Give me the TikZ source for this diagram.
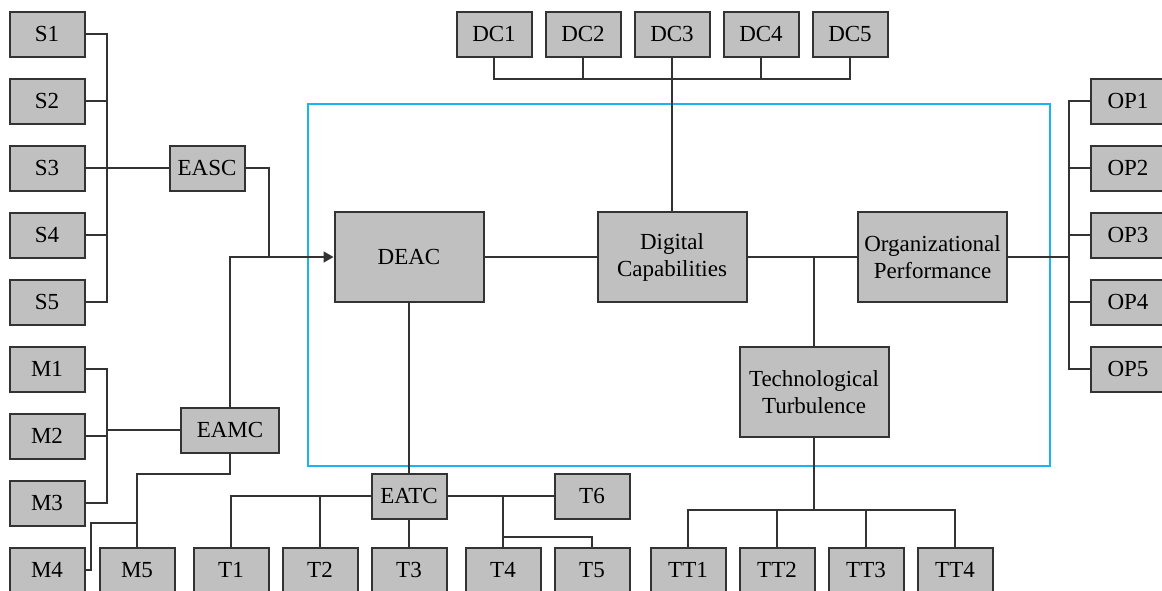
\documentclass[tikz,border=0pt]{standalone}
\usepackage{fontspec}
\setmainfont{Liberation Serif}
\usetikzlibrary{positioning,arrows.meta}
\definecolor{boxgray}{HTML}{C0C0C0}
\definecolor{linegray}{HTML}{333333}
\definecolor{framecyan}{HTML}{1CB4F0}

\begin{document}
\begin{tikzpicture}[x=0.5pt,y=-0.5pt,node distance=33.5pt,on grid,>={Triangle[length=5pt,width=5.5pt]},
		box/.style={rectangle,draw=linegray,fill=boxgray,line width=1pt,minimum width=37.5pt,minimum height=22.5pt,inner sep=1pt,font=\fontsize{11.5}{13.5}\selectfont},
		bigbox/.style={box,minimum width=74.5pt,minimum height=45pt,align=center},
		link/.style={draw=linegray,line width=0.8pt}]
		\useasboundingbox (0,0) rectangle (1162,590);
		\draw[framecyan,line width=1pt] (308,104) rectangle (1050,466);
		
		% left: S and M items
		\node[box]    (S1)  at (47,34)          {S1};
		\node[box]    (S2)  [below=of S1]       {S2};
		\node[box]    (S3)  [below=of S2]       {S3};
		\node[box]    (S4)  [below=of S3]       {S4};
		\node[box]    (S5)  [below=of S4]       {S5};
		\node[box]    (M1)  at (47,369)         {M1};
		\node[box]    (M2)  [below=of M1]       {M2};
		\node[box]    (M3)  [below=of M2]       {M3};
		\node[box]    (M4)  [below=of M3]       {M4};
		\node[box]    (M5)  [right=45pt of M4]  {M5};
		\node[box]    (EASC) at (207,168)       {EASC};
		\node[box,minimum width=49pt] (EAMC) at (230,430) {EAMC};
		
		% bottom: T items
		\node[box]    (T1)  at (231,570)        {T1};
		\node[box]    (T2)  [right=44.5pt of T1] {T2};
		\node[box]    (T3)  [right=44.5pt of T2] {T3};
		\node[box]    (T4)  [right=47pt of T3]  {T4};
		\node[box]    (T5)  [right=44.5pt of T4] {T5};
		\node[box]    (T6)  [above=37pt of T5]  {T6};
		\node[box]    (EATC) [above=37pt of T3] {EATC};
		
		% top: DC items
		\node[box]    (DC1) at (494,34)         {DC1};
		\node[box]    (DC2) [right=44.5pt of DC1] {DC2};
		\node[box]    (DC3) [right=44.5pt of DC2] {DC3};
		\node[box]    (DC4) [right=44.5pt of DC3] {DC4};
		\node[box]    (DC5) [right=44.5pt of DC4] {DC5};
		
		% right: OP items
		\node[box]    (OP1) at (1128,101)       {OP1};
		\node[box]    (OP2) [below=of OP1]      {OP2};
		\node[box]    (OP3) [below=of OP2]      {OP3};
		\node[box]    (OP4) [below=of OP3]      {OP4};
		\node[box]    (OP5) [below=of OP4]      {OP5};
		
		% TT items
		\node[box]    (TT1) at (688,570)        {TT1};
		\node[box]    (TT2) [right=44.5pt of TT1] {TT2};
		\node[box]    (TT3) [right=44.5pt of TT2] {TT3};
		\node[box]    (TT4) [right=44.5pt of TT3] {TT4};
		
		% constructs
		\node[bigbox] (DEAC)    at (409,257)              {DEAC};
		\node[bigbox] (digcap)  [right=131.5pt of DEAC]   {Digital\\Capabilities};
		\node[bigbox] (orgperf) [right=130.25pt of digcap] {Organizational\\Performance};
		\node[bigbox] (techturb) at (814,392)             {Technological\\Turbulence};
		
		% bus points
		\coordinate (sbus)  at (107,168);
		\coordinate (mbus)  at (107,436);
		\coordinate (eascdrop) at (269,257);
		\coordinate (mjog)  at (137,474);
		\coordinate (m4jog) at (91,523);
		\coordinate (dcbus) at (672,79);
		\coordinate (opbus) at (1069,257);
		\coordinate (t5jog) at (503,537);
		\coordinate (ttbus) at (814,510);
		
		\path[link]
		(S1.east) -| (sbus)  (S2.east) -| (sbus)  (S3.east) -- (EASC.west)
		(S4.east) -| (sbus)  (S5.east) -| (sbus)
		(M1.east) -| (mbus)  (M2.east) -- (mbus)  (M3.east) -| (mbus)
		(EAMC.west) -- (EAMC.west -| mbus)
		(EASC.east) -| (eascdrop)
		(EAMC.south) |- (mjog) -- (M5.north)
		(m4jog -| M5.north) -- (m4jog) |- (M4.east)
		(DC1.south) |- (dcbus)  (DC2.south) |- (dcbus)  (DC3.south) -- (DC3.south |- digcap.north)
		(DC4.south) |- (dcbus)  (DC5.south) |- (dcbus)
		(DEAC.east) -- (digcap.west)
		(digcap.east) -- (orgperf.west)
		(techturb.north) -- (techturb.north |- orgperf.west)
		(orgperf.east) -- (opbus)
		(OP1.west) -| (opbus)  (OP2.west) -| (opbus)  (OP3.west) -| (opbus)
		(OP4.west) -| (opbus)  (OP5.west) -| (opbus)
		(DEAC.south) -- (DEAC.south |- EATC.north)
		(T1.north) |- (EATC.west)  (T2.north) |- (EATC.west)
		(EATC.south) -- (T3.north)
		(EATC.east) -- (T6.west)
		(T4.north) -- (T4.north |- T6.west)
		(T4.north |- t5jog) -| (T5.north)
		(techturb.south) -- (ttbus)
		(TT1.north) |- (ttbus)  (TT2.north) |- (ttbus)
		(TT3.north) |- (ttbus)  (TT4.north) |- (ttbus);
		
		\draw[link,->] (EAMC.north) |- (DEAC.west);
	\end{tikzpicture}
\end{document}
